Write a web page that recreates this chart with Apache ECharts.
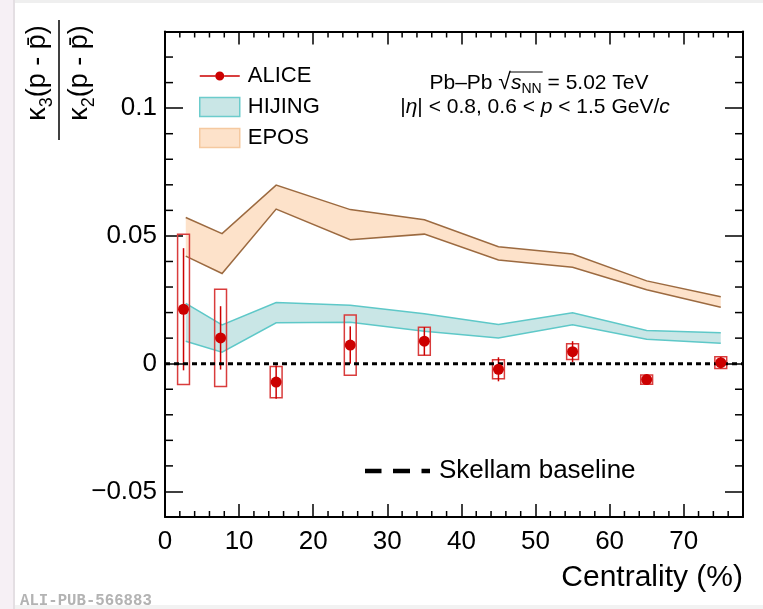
<!DOCTYPE html>
<html>
<head>
<meta charset="utf-8">
<script src="https://cdn.jsdelivr.net/npm/echarts@6/dist/echarts.min.js"></script>
<style>
html, body { margin: 0; padding: 0; background: #fff; }
#chart { width: 763px; height: 609px; }
</style>
</head>
<body>
<div id="chart"></div>
<script>
// ALICE points: centrality bin centres, value, stat and syst errors
const centrality = [2.5, 7.5, 15, 25, 35, 45, 55, 65, 75];
const aliceValue = [0.0213, 0.0101, -0.0072, 0.0073, 0.0088, -0.0022, 0.0047, -0.0062, 0.0004];
const aliceStat = [0.0239, 0.0124, 0.0065, 0.0073, 0.0055, 0.0047, 0.0041, 0.0021, 0.0022];
const aliceSys = [0.0294, 0.019, 0.0061, 0.0118, 0.0055, 0.0037, 0.0031, 0.0018, 0.0023];

// model bands
const modelCentrality = [2.8, 7.7, 15, 25, 35, 45, 55, 65, 75];
const hijingLow = [0.0088, 0.0045, 0.016, 0.0162, 0.0127, 0.0101, 0.0152, 0.0096, 0.008];
const hijingHigh = [0.0236, 0.0152, 0.0239, 0.0229, 0.0195, 0.0153, 0.0199, 0.013, 0.0121];
const eposLow = [0.0421, 0.0353, 0.0605, 0.0485, 0.0507, 0.0406, 0.0377, 0.0289, 0.0221];
const eposHigh = [0.0572, 0.0509, 0.0699, 0.0603, 0.0563, 0.0458, 0.0429, 0.0324, 0.0262];

// skellam baseline
const skellamX = [0, 78];
const skellamY = [0, 0];

// ticks
const xMajorTicks = [0, 10, 20, 30, 40, 50, 60, 70];
const xMinorTicks = [2, 4, 6, 8, 12, 14, 16, 18, 22, 24, 26, 28, 32, 34, 36, 38,
  42, 44, 46, 48, 52, 54, 56, 58, 62, 64, 66, 68, 72, 74, 76];
const yMajorTicks = [-0.05, 0, 0.05, 0.1];
const yMinorTicks = [-0.04, -0.03, -0.02, -0.01, 0.01, 0.02, 0.03, 0.04,
  0.06, 0.07, 0.08, 0.09, 0.11, 0.12];

const FONT = 'Liberation Sans, Arial, Helvetica, sans-serif';
const boxHalfWidth = 0.8;
const X_MIN = 0, X_MAX = 78, Y_MIN = -0.06, Y_MAX = 0.13;

const chart = echarts.init(document.getElementById('chart'));

const pairs = (xs, ys) => xs.map((x, i) => [x, ys[i]]);

// text measuring, used to put the bar of the square root over s_NN
const measureCtx = document.createElement('canvas').getContext('2d');
function textWidth(str, size, style) {
  measureCtx.font = (style || '') + ' ' + size + 'px ' + FONT;
  return measureCtx.measureText(str).width;
}

const axisLineStyle = { show: true, onZero: false, lineStyle: { color: '#000', width: 2 } };
const tickStyle = { color: '#000', width: 1.5 };

function xAxisAt(position, labels) {
  return {
    type: 'value', min: X_MIN, max: X_MAX, position: position,
    splitLine: { show: false },
    axisLine: axisLineStyle,
    axisTick: { show: true, inside: true, length: 13, customValues: xMajorTicks, lineStyle: tickStyle },
    axisLabel: labels
      ? { customValues: xMajorTicks, fontSize: 26, color: '#000', margin: 12, fontFamily: FONT }
      : { show: false }
  };
}
function yAxisAt(position, labels) {
  return {
    type: 'value', min: Y_MIN, max: Y_MAX, position: position,
    splitLine: { show: false },
    axisLine: axisLineStyle,
    axisTick: { show: true, inside: true, length: 18, customValues: yMajorTicks, lineStyle: tickStyle },
    axisLabel: labels
      ? {
        customValues: yMajorTicks, fontSize: 26, color: '#000', margin: 8, fontFamily: FONT,
        formatter: function (v) {
          if (Math.abs(v) < 1e-9) return '0';
          return (v < 0 ? '\u2212' : '') + String(Math.abs(v));
        }
      }
      : { show: false }
  };
}

// short ticks on all four sides, placed through the axis scales
function minorTickSeries(name, values, horizontal, len) {
  return {
    name: name, type: 'custom', silent: true, z: 6,
    data: values.map((v) => [v]),
    renderItem: function (params, api) {
      const v = api.value(0);
      let a, b, c, d;
      if (horizontal) {
        a = api.coord([v, Y_MIN]); b = api.coord([v, Y_MAX]);
        c = [a[0], a[1] - len]; d = [b[0], b[1] + len];
      } else {
        a = api.coord([X_MIN, v]); b = api.coord([X_MAX, v]);
        c = [a[0] + len, a[1]]; d = [b[0] - len, b[1]];
      }
      return {
        type: 'group',
        children: [
          { type: 'line', shape: { x1: a[0], y1: a[1], x2: c[0], y2: c[1] }, style: { stroke: '#000', lineWidth: 1.5 } },
          { type: 'line', shape: { x1: b[0], y1: b[1], x2: d[0], y2: d[1] }, style: { stroke: '#000', lineWidth: 1.5 } }
        ]
      };
    }
  };
}

// band drawn as one polygon from the arrays, through the axis scales
function bandSeries(name, xs, lo, hi, fill, stroke) {
  return {
    name: name, type: 'custom', z: 2,
    itemStyle: { color: fill },
    data: xs.map((x, i) => [x, lo[i], hi[i]]),
    renderItem: function (params, api) {
      if (params.dataIndex !== 0) return null;
      const upper = xs.map((x, i) => api.coord([x, hi[i]]));
      const lower = xs.map((x, i) => api.coord([x, lo[i]]));
      return {
        type: 'group',
        children: [
          { type: 'polygon', shape: { points: upper.concat(lower.slice().reverse()) }, style: { fill: fill, stroke: 'none' } },
          { type: 'polyline', shape: { points: upper }, style: { fill: 'none', stroke: stroke, lineWidth: 1.5 } },
          { type: 'polyline', shape: { points: lower }, style: { fill: 'none', stroke: stroke, lineWidth: 1.5 } }
        ]
      };
    }
  };
}

// annotation line 1 pieces, for placing the radical bar
const ann1Size = 21;
const ann1Parts = [
  textWidth('Pb\u2013Pb ', ann1Size),
  textWidth('\u221a', 23),
  textWidth('s', ann1Size, 'italic'),
  textWidth('NN', 14),
  textWidth(' = 5.02 TeV', ann1Size)
];
const ann1Width = ann1Parts.reduce((a, b) => a + b, 0);
const ann1Left = 539 - ann1Width / 2;
const radicalBarX1 = ann1Left + ann1Parts[0] + ann1Parts[1] * 0.92;
const radicalBarX2 = ann1Left + ann1Parts[0] + ann1Parts[1] + ann1Parts[2] + ann1Parts[3] + 1;

chart.setOption({
  animation: false,
  backgroundColor: '#fff',
  grid: { left: 165, right: 20, top: 31.5, bottom: 92, containLabel: false },
  xAxis: [xAxisAt('bottom', true), xAxisAt('top', false)],
  yAxis: [yAxisAt('left', true), yAxisAt('right', false)],
  legend: [
    {
      orient: 'vertical', left: 199, top: 65, padding: 0,
      itemWidth: 40, itemHeight: 19, itemGap: 9,
      selectedMode: false,
      textStyle: { fontSize: 22, color: '#000', fontFamily: FONT, padding: [0, 0, 0, 3] },
      data: [
        {
          name: 'ALICE',
          icon: 'path://M0,9.1h15.5v1.3h-15.5Z M24.5,9.1h15.5v1.3h-15.5Z M15.5,9.75a4.5,4.5 0 1,1 9,0a4.5,4.5 0 1,1 -9,0Z',
          itemStyle: { color: '#cc0000', borderWidth: 0 }
        },
        { name: 'HIJING', icon: 'rect', itemStyle: { color: '#c9e6e6', borderColor: '#6ccccc', borderWidth: 1.5 } },
        { name: 'EPOS', icon: 'rect', itemStyle: { color: '#fde2ca', borderColor: '#f5c9a0', borderWidth: 1.5 } }
      ]
    },
    {
      orient: 'horizontal', left: 365, top: 458, padding: 0,
      itemWidth: 65, itemHeight: 5,
      selectedMode: false,
      textStyle: { fontSize: 26, color: '#000', fontFamily: FONT, padding: [0, 0, 0, 4] },
      data: [
        {
          name: 'Skellam baseline',
          icon: 'path://M0,0h16.5v4.5h-16.5Z M28,0h17v4.5h-17Z M56.5,0h8.5v4.5h-8.5Z',
          itemStyle: { color: '#000', borderWidth: 0 }
        }
      ]
    }
  ],
  series: [
    bandSeries('HIJING', modelCentrality, hijingLow, hijingHigh, '#c9e6e6', '#5ec8c8'),
    bandSeries('EPOS', modelCentrality, eposLow, eposHigh, '#fde2ca', '#9c6a40'),
    {
      name: 'ALICE errors', type: 'custom', z: 3,
      data: centrality.map((x, i) => [x, aliceValue[i], aliceStat[i], aliceSys[i]]),
      renderItem: function (params, api) {
        const x = api.value(0);
        const y = api.value(1);
        const stat = api.value(2);
        const sys = api.value(3);
        const tl = api.coord([x - boxHalfWidth, y + sys]);
        const br = api.coord([x + boxHalfWidth, y - sys]);
        const st = api.coord([x, y + stat]);
        const sb = api.coord([x, y - stat]);
        return {
          type: 'group',
          children: [
            {
              type: 'rect',
              shape: { x: tl[0], y: tl[1], width: br[0] - tl[0], height: br[1] - tl[1] },
              style: { fill: 'none', stroke: '#d93c3c', lineWidth: 1.5 }
            },
            {
              type: 'line',
              shape: { x1: st[0], y1: st[1], x2: sb[0], y2: sb[1] },
              style: { stroke: '#cc0000', lineWidth: 1.5 }
            }
          ]
        };
      }
    },
    {
      name: 'Skellam baseline', type: 'line', symbol: 'none', z: 4,
      data: pairs(skellamX, skellamY),
      itemStyle: { color: '#000' },
      lineStyle: { color: '#000', width: 3, type: [5, 4] }
    },
    {
      name: 'ALICE', type: 'scatter', z: 5,
      data: pairs(centrality, aliceValue),
      symbol: 'circle', symbolSize: 11,
      itemStyle: { color: '#cc0000', opacity: 1 }
    },
    minorTickSeries('x minor ticks', xMinorTicks, true, 6),
    minorTickSeries('y minor ticks', yMinorTicks, false, 8)
  ],
  graphic: [
    // page frame
    { type: 'rect', silent: true, z: -10, shape: { x: 0, y: 0, width: 14, height: 609 }, style: { fill: '#f6f0f5' } },
    { type: 'rect', silent: true, z: -9, shape: { x: 13, y: 0, width: 2, height: 609 }, style: { fill: '#e4dfe3' } },
    { type: 'rect', silent: true, z: -9, shape: { x: 15, y: 0, width: 748, height: 3 }, style: { fill: '#efefef' } },
    { type: 'rect', silent: true, z: -9, shape: { x: 15, y: 605, width: 748, height: 4 }, style: { fill: '#f2f2f2' } },
    // y axis title as a fraction
    {
      type: 'group', x: 59, y: 73, rotation: Math.PI / 2, z: 10,
      children: [
        {
          type: 'text', x: 0, y: -21,
          style: {
            text: '{k|\u03ba}{s|3}{k|(p - p\u0304)}', align: 'center', verticalAlign: 'middle',
            rich: {
              k: { fontSize: 27, fontFamily: FONT, fill: '#000' },
              s: { fontSize: 18, fontFamily: FONT, fill: '#000', padding: [18, 0, 0, 0] }
            }
          }
        },
        {
          type: 'text', x: 0, y: 21,
          style: {
            text: '{k|\u03ba}{s|2}{k|(p - p\u0304)}', align: 'center', verticalAlign: 'middle',
            rich: {
              k: { fontSize: 27, fontFamily: FONT, fill: '#000' },
              s: { fontSize: 18, fontFamily: FONT, fill: '#000', padding: [18, 0, 0, 0] }
            }
          }
        },
        { type: 'line', shape: { x1: -67, y1: 0, x2: 53, y2: 0 }, style: { stroke: '#000', lineWidth: 1.5 } }
      ]
    },
    // collision system annotation
    {
      type: 'text', x: 539, y: 83, z: 10,
      style: {
        text: '{n|Pb\u2013Pb }{r|\u221a}{i|s}{sub|NN}{n| = 5.02 TeV}',
        align: 'center', verticalAlign: 'middle',
        rich: {
          n: { fontSize: ann1Size, fontFamily: FONT, fill: '#000' },
          r: { fontSize: 23, fontFamily: FONT, fill: '#000' },
          i: { fontSize: ann1Size, fontFamily: FONT, fontStyle: 'italic', fill: '#000' },
          sub: { fontSize: 14, fontFamily: FONT, fill: '#000', padding: [12, 0, 0, 0] }
        }
      }
    },
    { type: 'line', z: 10, shape: { x1: radicalBarX1, y1: 72, x2: radicalBarX2, y2: 72 }, style: { stroke: '#000', lineWidth: 1 } },
    {
      type: 'text', x: 535, y: 107, z: 10,
      style: {
        text: '{n||}{i|\u03b7}{n|| < 0.8, 0.6 < }{i|p}{n| < 1.5 GeV/}{i|c}',
        align: 'center', verticalAlign: 'middle',
        rich: {
          n: { fontSize: 21, fontFamily: FONT, fill: '#000' },
          i: { fontSize: 21, fontFamily: FONT, fontStyle: 'italic', fill: '#000' }
        }
      }
    },
    // x axis title
    {
      type: 'text', x: 743, y: 578, z: 10,
      style: { text: 'Centrality (%)', align: 'right', verticalAlign: 'middle', fontSize: 30, fontFamily: FONT, fill: '#000' }
    },
    // figure id
    {
      type: 'text', x: 20, y: 601, z: 10,
      style: { text: 'ALI-PUB-566883', align: 'left', verticalAlign: 'middle', fontSize: 15.7, fontWeight: 'bold', fontFamily: 'Liberation Mono, DejaVu Sans Mono, monospace', fill: '#b3b3b3' }
    }
  ]
});
</script>
</body>
</html>
